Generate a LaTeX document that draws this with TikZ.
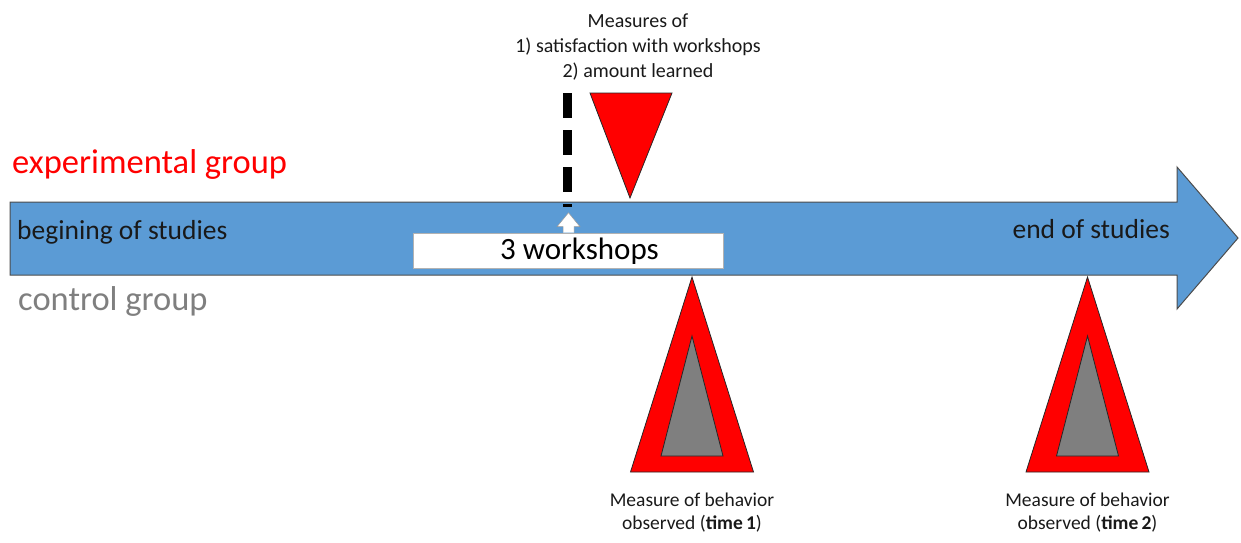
\documentclass[tikz,border=0pt]{standalone}
\usepackage{fontspec}
\setmainfont{Carlito}
\usetikzlibrary{positioning,calc}

\definecolor{timeblue}{HTML}{5B9BD5}
\definecolor{ctrlgray}{HTML}{7F7F7F}

\tikzset{
  notetext/.style={font=\fontsize{19.5}{23}\selectfont, align=center, inner sep=0pt, text=black!90},
  grouptext/.style={font=\fontsize{34.5}{40}\selectfont, inner sep=0pt},
  studytext/.style={font=\fontsize{27.5}{32}\selectfont, inner sep=0pt, text=black!90},
  redmark/.style={fill=red, draw=black!85, line width=0.8pt, line join=miter},
  graymark/.style={fill=ctrlgray, draw=black!85, line width=0.8pt},
  wsbox/.style={fill=white, draw=black!30, line width=0.6pt, minimum width=310pt, minimum height=35pt, inner sep=0pt}
}

\begin{document}
\begin{tikzpicture}[x=1pt, y=-1pt]
\useasboundingbox (0,0) rectangle (1241,542);

% Time line
\draw[fill=timeblue, draw=black!70, line width=1pt]
  (10,202) -- (1177,202) -- (1177,167) -- (1238,238) -- (1177,309) -- (1177,275) -- (10,275) -- cycle;
\node[studytext, anchor=base west] (begin) at (17,239) {begining of studies};
\node[studytext, anchor=base east] (end) at (1170,238) {end of studies};

% Groups
\node[grouptext, anchor=base west, text=red] (expgroup) at (12,173) {experimental group};
\node[grouptext, anchor=base west, text=ctrlgray] (ctrlgroup) at (18,310) {control group};

% Workshops
\node[wsbox] (workshops) at (568,250.5) {};
\node[font=\fontsize{31}{36}\selectfont, inner sep=0pt, anchor=base west] (wstext) at (500,259) {3 workshops};
\draw[fill=white, draw=black!40, line width=0.5pt]
  ([xshift=-5pt]workshops.north) -- ++(0,-6) -- ++(-6,0) -- ++(11.5,-14) -- ++(11.5,14) -- ++(-6,0) -- ++(0,6);

% End of workshops
\coordinate (dashtop) at (567,93);
\coordinate (dashbot) at (567,207);
\draw[line width=9pt, dash pattern=on 25pt off 12pt] (dashtop) -- (dashbot);

% Satisfaction and learning, experimental group only
\draw[redmark] (590,93) -- (672,93) -- (630,198) -- cycle;
\node[notetext, font=\fontsize{20}{25}\selectfont, anchor=north] (measures) at (638,14)
  {Measures of\\1) satisfaction with workshops\\2) amount learned};

% Behavior, both groups
\foreach \cx/\t in {692/1, 1087.5/2} {
  \draw[redmark] (\cx-61.5,472) -- (\cx,277) -- (\cx+61.5,472) -- cycle;
  \draw[graymark] (\cx-31,456) -- (\cx,336) -- (\cx+31,456) -- cycle;
  \node[notetext, anchor=north] (behavior\t) at (\cx,493)
    {Measure of behavior\\observed (\textbf{time\,\t})};
}

\end{tikzpicture}
\end{document}
